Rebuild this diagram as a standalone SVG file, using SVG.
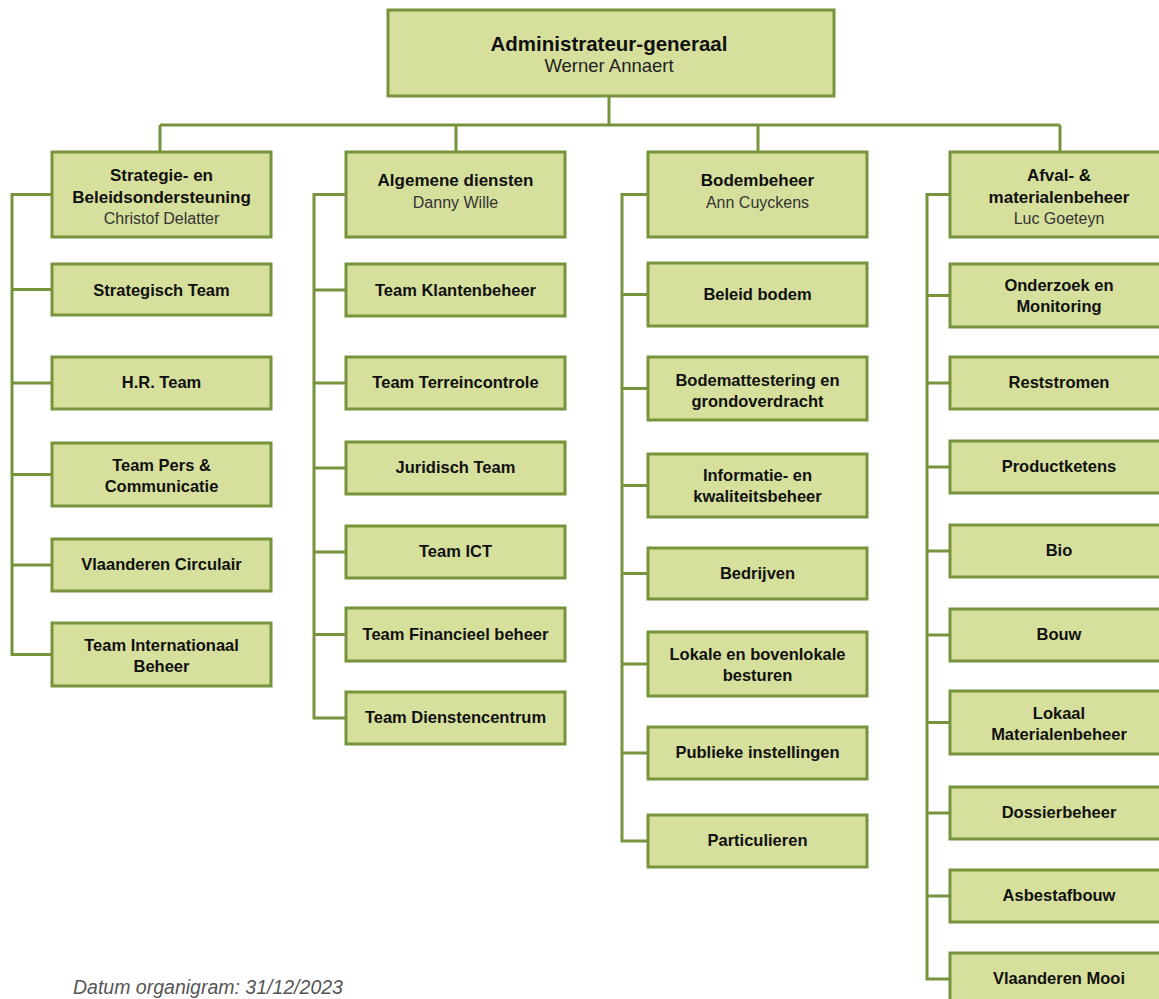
<svg xmlns="http://www.w3.org/2000/svg" width="1159" height="999" viewBox="0 0 1159 999">
<style>
.box{fill:#d6e09c;stroke:#77933c;stroke-width:3}
.conn{fill:none;stroke:#77933c;stroke-width:3}
text{font-family:"Liberation Sans",Arial,sans-serif;text-anchor:middle}
.t{font-size:16.5px;font-weight:bold;fill:#111}
.h{font-size:17px;font-weight:bold;fill:#111}
.n{font-size:16px;fill:#333}
.top{font-size:20.5px;font-weight:bold;fill:#111}
.topn{font-size:18.5px;fill:#222}
.foot{font-size:19.5px;font-style:italic;fill:#555;text-anchor:start}
</style>
<rect width="1159" height="999" fill="#fff"/>
<g id="connectors">
<path class="conn" d="M609 96V125M160 125H1060M160 125V152M456 125V152M758 125V152M1060 125V152"/>
<path class="conn" d="M52 194.5H12V654.5H52M12 289.5H52M12 383H52M12 474.5H52M12 565H52"/>
<path class="conn" d="M346 194.5H314V718H346M314 290H346M314 383H346M314 468H346M314 552H346M314 634.5H346"/>
<path class="conn" d="M648 194.5H622V841H648M622 294.5H648M622 388.5H648M622 485.5H648M622 573.5H648M622 664H648M622 753H648"/>
<path class="conn" d="M950 194.5H927V979H950M927 295.5H950M927 383H950M927 467H950M927 551H950M927 635H950M927 722.5H950M927 813H950M927 896H950"/>
</g>
<g id="top"><rect class="box" x="388" y="10" width="446" height="86"/><text class="top" x="609" y="51">Administrateur-generaal</text><text class="topn" x="609" y="72">Werner Annaert</text></g>
<g id="c1h"><rect class="box" x="52" y="152" width="219" height="85"/><text class="h" x="161.5" y="181">Strategie- en</text><text class="h" x="161.5" y="203">Beleidsondersteuning</text><text class="n" x="161.5" y="224">Christof Delatter</text></g>
<g id="c1a"><rect class="box" x="52" y="264" width="219" height="51"/><text class="t" x="161.5" y="296">Strategisch Team</text></g>
<g id="c1b"><rect class="box" x="52" y="357" width="219" height="52"/><text class="t" x="161.5" y="388">H.R. Team</text></g>
<g id="c1c"><rect class="box" x="52" y="443" width="219" height="63"/><text class="t" x="161.5" y="471">Team Pers &amp;</text><text class="t" x="161.5" y="492">Communicatie</text></g>
<g id="c1d"><rect class="box" x="52" y="539" width="219" height="52"/><text class="t" x="161.5" y="570">Vlaanderen Circulair</text></g>
<g id="c1e"><rect class="box" x="52" y="623" width="219" height="63"/><text class="t" x="161.5" y="651">Team Internationaal</text><text class="t" x="161.5" y="672">Beheer</text></g>
<g id="c2h"><rect class="box" x="346" y="152" width="219" height="85"/><text class="h" x="455.5" y="186">Algemene diensten</text><text class="n" x="455.5" y="208">Danny Wille</text></g>
<g id="c2a"><rect class="box" x="346" y="264" width="219" height="52"/><text class="t" x="455.5" y="296">Team Klantenbeheer</text></g>
<g id="c2b"><rect class="box" x="346" y="357" width="219" height="52"/><text class="t" x="455.5" y="388">Team Terreincontrole</text></g>
<g id="c2c"><rect class="box" x="346" y="442" width="219" height="52"/><text class="t" x="455.5" y="473">Juridisch Team</text></g>
<g id="c2d"><rect class="box" x="346" y="526" width="219" height="52"/><text class="t" x="455.5" y="557">Team ICT</text></g>
<g id="c2e"><rect class="box" x="346" y="608" width="219" height="53"/><text class="t" x="455.5" y="640">Team Financieel beheer</text></g>
<g id="c2f"><rect class="box" x="346" y="692" width="219" height="52"/><text class="t" x="455.5" y="723">Team Dienstencentrum</text></g>
<g id="c3h"><rect class="box" x="648" y="152" width="219" height="85"/><text class="h" x="757.5" y="186">Bodembeheer</text><text class="n" x="757.5" y="208">Ann Cuyckens</text></g>
<g id="c3a"><rect class="box" x="648" y="263" width="219" height="63"/><text class="t" x="757.5" y="300">Beleid bodem</text></g>
<g id="c3b"><rect class="box" x="648" y="357" width="219" height="63"/><text class="t" x="757.5" y="386">Bodemattestering en</text><text class="t" x="757.5" y="407">grondoverdracht</text></g>
<g id="c3c"><rect class="box" x="648" y="454" width="219" height="63"/><text class="t" x="757.5" y="481">Informatie- en</text><text class="t" x="757.5" y="502">kwaliteitsbeheer</text></g>
<g id="c3d"><rect class="box" x="648" y="548" width="219" height="51"/><text class="t" x="757.5" y="579">Bedrijven</text></g>
<g id="c3e"><rect class="box" x="648" y="632" width="219" height="64"/><text class="t" x="757.5" y="660">Lokale en bovenlokale</text><text class="t" x="757.5" y="681">besturen</text></g>
<g id="c3f"><rect class="box" x="648" y="727" width="219" height="52"/><text class="t" x="757.5" y="758">Publieke instellingen</text></g>
<g id="c3g"><rect class="box" x="648" y="815" width="219" height="52"/><text class="t" x="757.5" y="846">Particulieren</text></g>
<g id="c4h"><rect class="box" x="950" y="152" width="218" height="85"/><text class="h" x="1059" y="181">Afval- &amp;</text><text class="h" x="1059" y="203">materialenbeheer</text><text class="n" x="1059" y="224">Luc Goeteyn</text></g>
<g id="c4a"><rect class="box" x="950" y="264" width="218" height="63"/><text class="t" x="1059" y="291">Onderzoek en</text><text class="t" x="1059" y="312">Monitoring</text></g>
<g id="c4b"><rect class="box" x="950" y="357" width="218" height="52"/><text class="t" x="1059" y="388">Reststromen</text></g>
<g id="c4c"><rect class="box" x="950" y="441" width="218" height="52"/><text class="t" x="1059" y="472">Productketens</text></g>
<g id="c4d"><rect class="box" x="950" y="525" width="218" height="52"/><text class="t" x="1059" y="556">Bio</text></g>
<g id="c4e"><rect class="box" x="950" y="609" width="218" height="52"/><text class="t" x="1059" y="640">Bouw</text></g>
<g id="c4f"><rect class="box" x="950" y="691" width="218" height="63"/><text class="t" x="1059" y="719">Lokaal</text><text class="t" x="1059" y="740">Materialenbeheer</text></g>
<g id="c4g"><rect class="box" x="950" y="787" width="218" height="52"/><text class="t" x="1059" y="818">Dossierbeheer</text></g>
<g id="c4h2"><rect class="box" x="950" y="870" width="218" height="52"/><text class="t" x="1059" y="901">Asbestafbouw</text></g>
<g id="c4i"><rect class="box" x="950" y="953" width="218" height="52"/><text class="t" x="1059" y="984">Vlaanderen Mooi</text></g>
<text class="foot" x="73" y="994">Datum organigram: 31/12/2023</text>
</svg>
